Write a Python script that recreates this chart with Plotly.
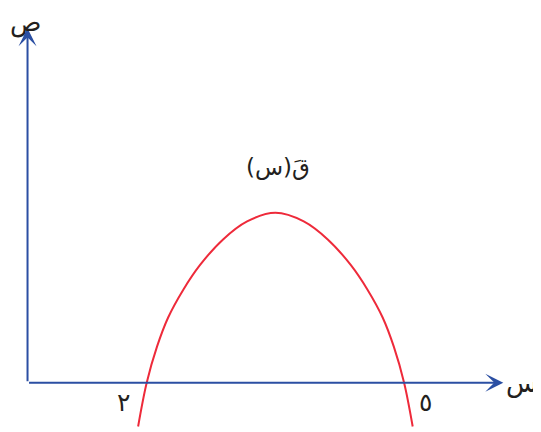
import plotly.graph_objects as go

# curve q(x), points (x in units, y in units)
curve_x = [1.90, 2.0, 2.12, 2.25, 2.43, 2.62, 2.89, 3.17, 3.5, 3.83, 4.11, 4.38, 4.57, 4.75, 4.88, 5.0, 5.10]
curve_y = [-0.51, 0, 0.42, 0.76, 1.09, 1.37, 1.67, 1.88, 1.98, 1.88, 1.67, 1.37, 1.09, 0.76, 0.42, 0, -0.51]

# axes (origin and arrow tips)
origin = (0.611, 0.0)
x_tip = 6.156
y_tip = 4.13

# labels
root_vals = [2, 5]
root_labels = ["٢", "٥"]
curve_label = "قَ(س)"
x_label = "س"
y_label = "ص"

axis_blue = "#2b4fa3"
curve_red = "#ee2a3a"
text_col = "#231f20"
font = "DejaVu Sans"

fig = go.Figure()

fig.add_trace(go.Scatter(
    x=curve_x, y=curve_y, mode="lines",
    line=dict(color=curve_red, width=2, shape="spline", smoothing=1.0),
    hoverinfo="skip", showlegend=False,
))

# axis lines with arrowheads
for tx, ty in [(x_tip, origin[1]), (origin[0], y_tip)]:
    fig.add_annotation(
        x=tx, y=ty, ax=origin[0], ay=origin[1],
        xref="x", yref="y", axref="x", ayref="y",
        text="", showarrow=True, arrowhead=3, arrowsize=1.5,
        arrowwidth=2, arrowcolor=axis_blue,
    )

# tick labels under the roots
offsets = [-0.276, 0.255]
for v, lab, dx in zip(root_vals, root_labels, offsets):
    fig.add_annotation(x=v + dx, y=-0.23, text=lab, showarrow=False,
                       font=dict(family=font, size=25, color=text_col))

fig.add_annotation(x=3.53, y=2.51, text=curve_label, showarrow=False,
                   font=dict(family=font, size=23, color=text_col))
fig.add_annotation(x=6.374, y=0.0, text=x_label, showarrow=False,
                   font=dict(family=font, size=26, color=text_col))
fig.add_annotation(x=0.582, y=4.2, text=y_label, showarrow=False,
                   font=dict(family=font, size=26, color=text_col))

# page has an 8px body margin, so the ranges are shifted to compensate
fig.update_layout(
    width=541, height=432,
    margin=dict(l=0, r=0, t=0, b=0),
    paper_bgcolor="white", plot_bgcolor="white",
    xaxis=dict(range=[0.3834, 6.6888], visible=False),
    yaxis=dict(range=[-0.6678, 4.3671], visible=False),
)

fig.write_html("out.html")
